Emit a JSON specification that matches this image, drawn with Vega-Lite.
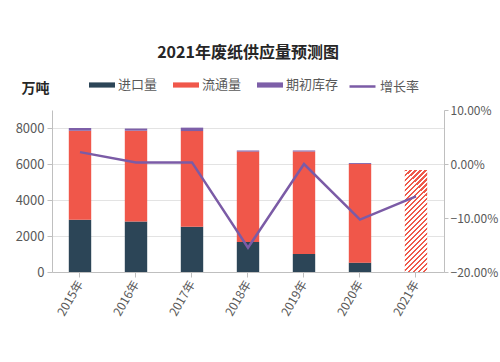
{
  "$schema": "https://vega.github.io/schema/vega-lite/v6.json",
  "width": 392,
  "height": 162,
  "autosize": {"type": "none"},
  "padding": {"left": 52, "top": 110, "right": 56, "bottom": 90},
  "background": "white",
  "config": {
    "font": "Noto Sans CJK SC",
    "view": {"stroke": null},
    "axis": {"labelColor": "#595959", "labelFontSize": 12, "domainColor": "#bfbfbf", "tickColor": "#bfbfbf", "gridColor": "#e3e3e3"}
  },
  "title": {
    "text": "2021年废纸供应量预测图",
    "fontSize": 16,
    "fontWeight": "bold",
    "color": "#262626",
    "anchor": "middle",
    "offset": 11
  },
  "datasets": {
    "bars": [
      {"year": "2015年", "series": "进口量", "value": 2900},
      {"year": "2015年", "series": "流通量", "value": 4950},
      {"year": "2015年", "series": "期初库存", "value": 150},
      {"year": "2016年", "series": "进口量", "value": 2800},
      {"year": "2016年", "series": "流通量", "value": 5050},
      {"year": "2016年", "series": "期初库存", "value": 120},
      {"year": "2017年", "series": "进口量", "value": 2520},
      {"year": "2017年", "series": "流通量", "value": 5310},
      {"year": "2017年", "series": "期初库存", "value": 190},
      {"year": "2018年", "series": "进口量", "value": 1670},
      {"year": "2018年", "series": "流通量", "value": 5020},
      {"year": "2018年", "series": "期初库存", "value": 60},
      {"year": "2019年", "series": "进口量", "value": 1000},
      {"year": "2019年", "series": "流通量", "value": 5690},
      {"year": "2019年", "series": "期初库存", "value": 60},
      {"year": "2020年", "series": "进口量", "value": 520},
      {"year": "2020年", "series": "流通量", "value": 5480},
      {"year": "2020年", "series": "期初库存", "value": 50}
    ],
    "forecast": [
      {"year": "2021年", "series": "预测", "value": 5670}
    ],
    "growth": [
      {"year": "2015年", "series": "增长率", "rate": 0.022},
      {"year": "2016年", "series": "增长率", "rate": 0.003},
      {"year": "2017年", "series": "增长率", "rate": 0.003},
      {"year": "2018年", "series": "增长率", "rate": -0.155},
      {"year": "2019年", "series": "增长率", "rate": 0.0},
      {"year": "2020年", "series": "增长率", "rate": -0.103},
      {"year": "2021年", "series": "增长率", "rate": -0.06}
    ]
  },
  "encoding": {
    "x": {
      "field": "year",
      "type": "nominal",
      "sort": ["2015年", "2016年", "2017年", "2018年", "2019年", "2020年", "2021年"],
      "scale": {"domain": ["2015年", "2016年", "2017年", "2018年", "2019年", "2020年", "2021年"], "paddingInner": 0.6, "paddingOuter": 0.3},
      "axis": {"title": null, "labelAngle": -60, "labelFontSize": 12, "tickSize": 5, "labelPadding": 4}
    }
  },
  "layer": [
    {
      "layer": [
        {
          "data": {"name": "bars"},
          "mark": {"type": "bar"},
          "encoding": {
            "y": {
              "field": "value",
              "type": "quantitative",
              "stack": "zero",
              "scale": {"domain": [0, 9000], "nice": false},
              "axis": {
                "values": [0, 2000, 4000, 6000, 8000],
                "format": "d",
                "grid": true,
                "tickSize": 5,
                "labelFontSize": 13,
                "labelPadding": 3,
                "title": "万吨",
                "titleAngle": 0,
                "titleX": -17,
                "titleY": -22,
                "titleAlign": "center",
                "titleBaseline": "middle",
                "titleFontSize": 14,
                "titleFontWeight": "bold",
                "titleColor": "#262626"
              }
            },
            "color": {
              "field": "series",
              "type": "nominal",
              "sort": ["进口量", "流通量", "期初库存"],
              "scale": {"domain": ["进口量", "流通量", "期初库存"], "range": ["#2c4557", "#f0574a", "#7d5fa8"]},
              "legend": {
                "title": null,
                "orient": "none",
                "direction": "horizontal",
                "legendX": 37,
                "legendY": -38,
                "symbolType": "M-1,-0.2H1V0.2H-1Z",
                "symbolSize": 676,
                "symbolStrokeWidth": 0,
                "symbolOpacity": 1,
                "labelFontSize": 13,
                "labelColor": "#595959",
                "labelOffset": 3,
                "columnPadding": 15
              }
            }
          }
        },
        {
          "data": {"name": "forecast"},
          "mark": {
            "type": "bar",
            "fill": {
              "gradient": "linear",
              "x1": 0, "y1": 0, "x2": 0.2506, "y2": 1.1617,
              "stops": [
                {"offset": 0, "color": "#ee5a4b"}, {"offset": 0.018, "color": "#ee5a4b"}, {"offset": 0.018, "color": "#ffffff"}, {"offset": 0.04, "color": "#ffffff"},
                {"offset": 0.04, "color": "#ee5a4b"}, {"offset": 0.058, "color": "#ee5a4b"}, {"offset": 0.058, "color": "#ffffff"}, {"offset": 0.08, "color": "#ffffff"},
                {"offset": 0.08, "color": "#ee5a4b"}, {"offset": 0.098, "color": "#ee5a4b"}, {"offset": 0.098, "color": "#ffffff"}, {"offset": 0.12, "color": "#ffffff"},
                {"offset": 0.12, "color": "#ee5a4b"}, {"offset": 0.138, "color": "#ee5a4b"}, {"offset": 0.138, "color": "#ffffff"}, {"offset": 0.16, "color": "#ffffff"},
                {"offset": 0.16, "color": "#ee5a4b"}, {"offset": 0.178, "color": "#ee5a4b"}, {"offset": 0.178, "color": "#ffffff"}, {"offset": 0.2, "color": "#ffffff"},
                {"offset": 0.2, "color": "#ee5a4b"}, {"offset": 0.218, "color": "#ee5a4b"}, {"offset": 0.218, "color": "#ffffff"}, {"offset": 0.24, "color": "#ffffff"},
                {"offset": 0.24, "color": "#ee5a4b"}, {"offset": 0.258, "color": "#ee5a4b"}, {"offset": 0.258, "color": "#ffffff"}, {"offset": 0.28, "color": "#ffffff"},
                {"offset": 0.28, "color": "#ee5a4b"}, {"offset": 0.298, "color": "#ee5a4b"}, {"offset": 0.298, "color": "#ffffff"}, {"offset": 0.32, "color": "#ffffff"},
                {"offset": 0.32, "color": "#ee5a4b"}, {"offset": 0.338, "color": "#ee5a4b"}, {"offset": 0.338, "color": "#ffffff"}, {"offset": 0.36, "color": "#ffffff"},
                {"offset": 0.36, "color": "#ee5a4b"}, {"offset": 0.378, "color": "#ee5a4b"}, {"offset": 0.378, "color": "#ffffff"}, {"offset": 0.4, "color": "#ffffff"},
                {"offset": 0.4, "color": "#ee5a4b"}, {"offset": 0.418, "color": "#ee5a4b"}, {"offset": 0.418, "color": "#ffffff"}, {"offset": 0.44, "color": "#ffffff"},
                {"offset": 0.44, "color": "#ee5a4b"}, {"offset": 0.458, "color": "#ee5a4b"}, {"offset": 0.458, "color": "#ffffff"}, {"offset": 0.48, "color": "#ffffff"},
                {"offset": 0.48, "color": "#ee5a4b"}, {"offset": 0.498, "color": "#ee5a4b"}, {"offset": 0.498, "color": "#ffffff"}, {"offset": 0.52, "color": "#ffffff"},
                {"offset": 0.52, "color": "#ee5a4b"}, {"offset": 0.538, "color": "#ee5a4b"}, {"offset": 0.538, "color": "#ffffff"}, {"offset": 0.56, "color": "#ffffff"},
                {"offset": 0.56, "color": "#ee5a4b"}, {"offset": 0.578, "color": "#ee5a4b"}, {"offset": 0.578, "color": "#ffffff"}, {"offset": 0.6, "color": "#ffffff"},
                {"offset": 0.6, "color": "#ee5a4b"}, {"offset": 0.618, "color": "#ee5a4b"}, {"offset": 0.618, "color": "#ffffff"}, {"offset": 0.64, "color": "#ffffff"},
                {"offset": 0.64, "color": "#ee5a4b"}, {"offset": 0.658, "color": "#ee5a4b"}, {"offset": 0.658, "color": "#ffffff"}, {"offset": 0.68, "color": "#ffffff"},
                {"offset": 0.68, "color": "#ee5a4b"}, {"offset": 0.698, "color": "#ee5a4b"}, {"offset": 0.698, "color": "#ffffff"}, {"offset": 0.72, "color": "#ffffff"},
                {"offset": 0.72, "color": "#ee5a4b"}, {"offset": 0.738, "color": "#ee5a4b"}, {"offset": 0.738, "color": "#ffffff"}, {"offset": 0.76, "color": "#ffffff"},
                {"offset": 0.76, "color": "#ee5a4b"}, {"offset": 0.778, "color": "#ee5a4b"}, {"offset": 0.778, "color": "#ffffff"}, {"offset": 0.8, "color": "#ffffff"},
                {"offset": 0.8, "color": "#ee5a4b"}, {"offset": 0.818, "color": "#ee5a4b"}, {"offset": 0.818, "color": "#ffffff"}, {"offset": 0.84, "color": "#ffffff"},
                {"offset": 0.84, "color": "#ee5a4b"}, {"offset": 0.858, "color": "#ee5a4b"}, {"offset": 0.858, "color": "#ffffff"}, {"offset": 0.88, "color": "#ffffff"},
                {"offset": 0.88, "color": "#ee5a4b"}, {"offset": 0.898, "color": "#ee5a4b"}, {"offset": 0.898, "color": "#ffffff"}, {"offset": 0.92, "color": "#ffffff"},
                {"offset": 0.92, "color": "#ee5a4b"}, {"offset": 0.938, "color": "#ee5a4b"}, {"offset": 0.938, "color": "#ffffff"}, {"offset": 0.96, "color": "#ffffff"},
                {"offset": 0.96, "color": "#ee5a4b"}, {"offset": 0.978, "color": "#ee5a4b"}, {"offset": 0.978, "color": "#ffffff"}, {"offset": 1, "color": "#ffffff"}
              ]
            }
          },
          "encoding": {
            "y": {"field": "value", "type": "quantitative", "scale": {"domain": [0, 9000], "nice": false}}
          }
        }
      ]
    },
    {
      "data": {"name": "growth"},
      "mark": {"type": "line", "strokeWidth": 2.5},
      "encoding": {
        "y": {
          "field": "rate",
          "type": "quantitative",
          "scale": {"domain": [-0.2, 0.1], "nice": false},
          "axis": {
            "orient": "right",
            "values": [-0.2, -0.1, 0, 0.1],
            "format": ".2%",
            "grid": false,
            "tickSize": 4,
            "labelFontSize": 12,
            "labelPadding": 2,
            "title": null
          }
        },
        "stroke": {
          "field": "series",
          "type": "nominal",
          "scale": {"domain": ["增长率"], "range": ["#7b5ba6"]},
          "legend": {
            "title": null,
            "orient": "none",
            "legendX": 296,
            "legendY": -38,
            "symbolType": "stroke",
            "symbolSize": 676,
            "symbolStrokeWidth": 2.5,
            "labelFontSize": 13,
            "labelColor": "#595959",
            "labelOffset": 3
          }
        }
      }
    }
  ],
  "resolve": {"scale": {"y": "independent"}}
}
